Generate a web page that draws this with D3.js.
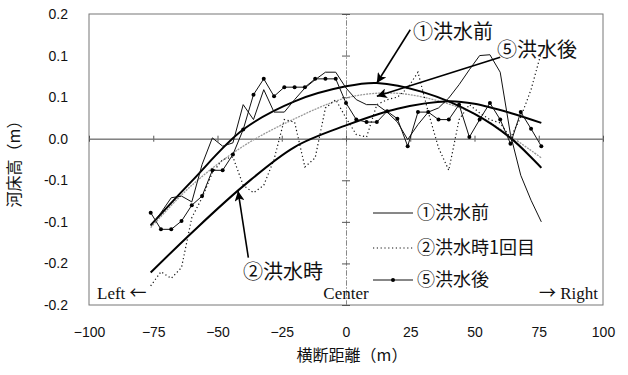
<!DOCTYPE html>
<html>
<head>
<meta charset="utf-8">
<script src="https://cdn.jsdelivr.net/npm/d3@7"></script>
<style>
  body { margin: 0; background: #fff; }
  text { fill: #111; }
</style>
</head>
<body>
<svg id="chart" width="628" height="375"></svg>
<script>
// survey points across the section (m)
const dist = [-76, -72, -68, -64, -60, -56, -52, -48, -44, -40, -36, -32, -28, -24, -20, -16, -12, -8, -4, 0,
  4, 8, 12, 16, 20, 24, 28, 32, 36, 40, 44, 48, 52, 56, 60, 64, 68, 72, 76];

// ①洪水前
const before = [-0.105, -0.089, -0.071, -0.069, -0.076, -0.031, 0.001, -0.009, -0.005, 0.041, 0.023, 0.059, 0.032,
  0.032, 0.047, 0.061, 0.071, 0.080, 0.080, 0.061, 0.047, 0.041, 0.041, 0.032, 0.020, -0.001, 0.017, 0.032, 0.037,
  0.049, 0.065, 0.083, 0.100, 0.101, 0.080, 0.005, -0.044, -0.074, -0.100];

// ②洪水時1回目
const during = [-0.177, -0.160, -0.168, -0.155, -0.095, -0.071, -0.041, -0.025, -0.022, -0.056, -0.065, -0.056, -0.025,
  0.023, 0.020, -0.034, -0.023, 0.037, 0.047, 0.025, 0.005, 0.002, 0.041, 0.047, 0.050, 0.061, 0.080, 0.032, -0.011,
  -0.038, 0.023, 0.041, 0.031, 0.023, 0.019, 0.001, 0.026, 0.059, 0.104];

// ⑤洪水後
const after = [-0.089, -0.109, -0.109, -0.099, -0.080, -0.069, -0.038, -0.038, -0.019, 0.011, 0.053, 0.072, 0.051,
  0.062, 0.062, 0.062, 0.072, 0.072, 0.072, 0.043, 0.023, 0.020, 0.020, 0.033, 0.024, -0.009, 0.032, 0.032, 0.023,
  0.023, 0.041, 0.002, 0.023, 0.043, 0.023, -0.006, 0.032, 0.012, -0.009];

// trend curves
const trendBeforeX = [-76, -60, -40, -20, 0, 12, 30, 50, 64, 76];
const trendBefore = [-0.104, -0.051, 0.011, 0.045, 0.063, 0.067, 0.056, 0.030, 0.001, -0.035];
const trendDuringX = [-76, -60, -40, -20, 0, 20, 40, 50, 64, 76];
const trendDuring = [-0.161, -0.113, -0.057, -0.010, 0.016, 0.036, 0.045, 0.042, 0.031, 0.019];
const trendAfterX = [-76, -60, -40, -20, 0, 16, 30, 50, 64, 76];
const trendAfter = [-0.107, -0.056, -0.009, 0.024, 0.049, 0.055, 0.050, 0.030, 0.003, -0.023];

const xTicks = [-100, -75, -50, -25, 0, 25, 50, 75, 100];
const yTicks = [-0.2, -0.15, -0.1, -0.05, 0, 0.05, 0.1, 0.15];
const yLabels = ['-0.2', '-0.2', '-0.1', '-0.1', '0.0', '0.1', '0.1', '0.2'];

const legendNames = ['①洪水前', '②洪水時1回目', '⑤洪水後'];

const jp = '"Noto Sans CJK JP", "Noto Sans", sans-serif';
const sans = '"Liberation Sans", Arial, sans-serif';
const serif = '"Liberation Serif", "Times New Roman", serif';

const svg = d3.select('#chart');
const x = d3.scaleLinear().domain([-100, 100]).range([89, 603]);
const y = d3.scaleLinear().domain([-0.2, 0.15]).range([305, 14]);

svg.append('defs').append('marker')
  .attr('id', 'head')
  .attr('viewBox', '0 0 10 10')
  .attr('refX', 10).attr('refY', 5)
  .attr('markerWidth', 10).attr('markerHeight', 10)
  .attr('markerUnits', 'userSpaceOnUse')
  .attr('orient', 'auto')
  .append('path')
  .attr('d', 'M0,0 L10,5 L0,10 L2.5,5 Z')
  .attr('fill', '#000');

// plot frame
svg.append('rect')
  .attr('x', x(-100)).attr('y', y(0.15))
  .attr('width', x(100) - x(-100)).attr('height', y(-0.2) - y(0.15))
  .attr('fill', 'none').attr('stroke', '#777').attr('stroke-width', 1);

// value axis crossing at x = 0
const yCross = svg.append('g').attr('transform', `translate(${x(0)},0)`);
yCross.append('g').call(d3.axisLeft(y).tickValues(yTicks).tickSize(4).tickFormat('').tickSizeOuter(0));
yCross.append('g').call(d3.axisRight(y).tickValues(yTicks).tickSize(4).tickFormat('').tickSizeOuter(0));
yCross.selectAll('.domain').attr('stroke', '#888').attr('stroke-dasharray', '5,2,1,2');
yCross.selectAll('.tick line').attr('stroke', '#555');

// category axis crossing at y = 0
const xCross = svg.append('g').attr('transform', `translate(0,${y(0)})`);
xCross.append('g').call(d3.axisBottom(x).tickValues(xTicks).tickSize(3).tickFormat('').tickSizeOuter(0));
xCross.append('g').call(d3.axisTop(x).tickValues(xTicks).tickSize(3).tickFormat('').tickSizeOuter(0));
xCross.selectAll('.domain').attr('stroke', '#777');
xCross.selectAll('.tick line').attr('stroke', '#555');

// tick labels at the low side
const yLab = svg.append('g').attr('transform', `translate(${x(-100)},0)`)
  .call(d3.axisLeft(y).tickValues(yTicks).tickSize(0).tickPadding(21).tickFormat((d, i) => yLabels[i]));
const xLab = svg.append('g').attr('transform', `translate(0,${y(-0.2)})`)
  .call(d3.axisBottom(x).tickValues(xTicks).tickSize(0).tickPadding(22).tickFormat(d => String(d).replace('-', '−')));
[yLab, xLab].forEach(g => {
  g.select('.domain').remove();
  g.selectAll('text').attr('font-family', sans).attr('font-size', 14).attr('fill', '#111');
});

const line = d3.line().x(d => x(d[0])).y(d => y(d[1]));
const smooth = d3.line().x(d => x(d[0])).y(d => y(d[1])).curve(d3.curveCatmullRom.alpha(0.5));
const pairs = (xs, ys) => xs.map((v, i) => [v, ys[i]]);

const plot = svg.append('g').attr('fill', 'none');

// trend curves
plot.append('path').attr('d', smooth(pairs(trendAfterX, trendAfter)))
  .attr('stroke', '#999').attr('stroke-width', 1.3).attr('stroke-dasharray', '2,1');
plot.append('path').attr('d', smooth(pairs(trendBeforeX, trendBefore)))
  .attr('stroke', '#000').attr('stroke-width', 2);
plot.append('path').attr('d', smooth(pairs(trendDuringX, trendDuring)))
  .attr('stroke', '#000').attr('stroke-width', 2);

// measured profiles
plot.append('path').attr('d', line(pairs(dist, during)))
  .attr('stroke', '#111').attr('stroke-width', 1.2).attr('stroke-dasharray', '1.2,2.6');
plot.append('path').attr('d', line(pairs(dist, before)))
  .attr('stroke', '#111').attr('stroke-width', 1);
plot.append('path').attr('d', line(pairs(dist, after)))
  .attr('stroke', '#111').attr('stroke-width', 1);
plot.selectAll('circle.after').data(pairs(dist, after)).join('circle')
  .attr('class', 'after')
  .attr('cx', d => x(d[0])).attr('cy', d => y(d[1])).attr('r', 2)
  .attr('fill', '#000');

// annotations: label text and arrow from label to curve
const notes = [
  { text: '①洪水前', tx: 413, ty: 39, from: [25, 0.131], to: [12, 0.067] },
  { text: '⑤洪水後', tx: 497, ty: 57, from: [60, 0.098], to: [12, 0.051] },
  { text: '②洪水時', tx: 243, ty: 279, from: [-38, -0.143], to: [-42, -0.063] }
];
notes.forEach(n => {
  svg.append('line')
    .attr('x1', x(n.from[0])).attr('y1', y(n.from[1]))
    .attr('x2', x(n.to[0])).attr('y2', y(n.to[1]))
    .attr('stroke', '#000').attr('stroke-width', 1.6)
    .attr('marker-end', 'url(#head)');
  svg.append('text').attr('x', n.tx).attr('y', n.ty)
    .attr('font-family', jp).attr('font-size', 20).text(n.text);
});

// legend
const legend = svg.append('g').attr('transform', 'translate(373,0)');
const legendY = [213, 248, 280];
legendNames.forEach((name, i) => {
  const g = legend.append('g').attr('transform', `translate(0,${legendY[i]})`);
  const ln = g.append('line').attr('x1', 0).attr('x2', 40).attr('stroke', '#111').attr('stroke-width', 1);
  if (i === 1) ln.attr('stroke-dasharray', '1.2,2.6').attr('stroke-width', 1.2);
  if (i === 2) g.append('circle').attr('cx', 20).attr('r', 2).attr('fill', '#000');
  g.append('text').attr('x', 44).attr('dy', '0.35em')
    .attr('font-family', jp).attr('font-size', 18).text(name);
});

// direction marks
const dirs = [
  { word: 'Left', arrow: '←', x: 97, anchor: 'start', arrowFirst: false },
  { word: 'Center', arrow: '', x: 346, anchor: 'middle', arrowFirst: false },
  { word: 'Right', arrow: '→', x: 598, anchor: 'end', arrowFirst: true }
];
dirs.forEach(d => {
  const t = svg.append('text').attr('x', d.x).attr('y', 299).attr('text-anchor', d.anchor)
    .attr('font-family', serif).attr('font-size', 17);
  const addArrow = () => t.append('tspan').attr('font-family', jp).attr('font-size', 17).text(d.arrow);
  if (d.arrow && d.arrowFirst) { addArrow(); t.append('tspan').text(' ' + d.word); }
  else if (d.arrow) { t.append('tspan').text(d.word + ' '); addArrow(); }
  else t.text(d.word);
});

// axis titles
svg.append('text')
  .attr('transform', 'translate(20,160) rotate(-90)')
  .attr('text-anchor', 'middle')
  .attr('font-family', jp).attr('font-size', 16).text('河床高（m）');
svg.append('text')
  .attr('x', 352).attr('y', 361).attr('text-anchor', 'middle')
  .attr('font-family', jp).attr('font-size', 16).text('横断距離（m）');
</script>
</body>
</html>
